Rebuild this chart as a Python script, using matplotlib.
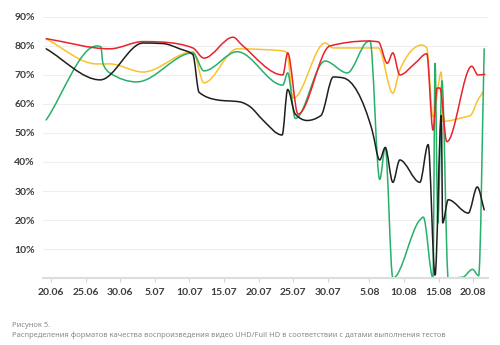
import numpy as np
import matplotlib
matplotlib.use('Agg')
import matplotlib.pyplot as plt
import matplotlib.dates as mdates
from matplotlib.path import Path
from matplotlib.patches import PathPatch

# days after 20.06, values in %
red_days = [-0.7, 8.5, 13.3, 16.2, 20.5, 22.1, 26.3, 27.6, 33.5, 34.2, 35.7, 40.3, 45.8, 47.3,
            48.6, 49.4, 50.4, 52.6, 54.3, 55.2, 55.8, 56.2, 57.2, 60.8, 61.7, 62.7]
red_vals = [82.5, 79.0, 81.5, 81.3, 79.3, 75.8, 83.0, 80.3, 70.0, 77.6, 56.5, 80.0, 81.7, 81.4,
            74.0, 77.6, 70.0, 74.0, 77.3, 51.0, 65.5, 65.5, 47.0, 73.0, 70.0, 70.2]

yellow_days = [-0.7, 6.6, 8.5, 13.3, 20.5, 22.1, 26.9, 33.5, 34.1, 35.0, 39.6, 40.8, 46.1, 47.3,
               49.4, 50.4, 53.6, 54.3, 55.2, 56.4, 56.6, 59.8, 60.6, 61.7, 62.4]
yellow_vals = [82.4, 73.8, 73.8, 71.0, 78.0, 67.3, 79.0, 78.3, 77.6, 62.0, 81.0, 79.3, 79.3, 79.3,
               63.7, 71.7, 80.3, 79.3, 55.5, 71.0, 54.0, 55.5, 56.0, 61.4, 64.0]

green_days = [-0.7, 6.6, 7.2, 7.5, 8.5, 12.4, 20.5, 22.1, 26.9, 33.5, 34.2, 35.3, 39.6, 42.8,
              45.7, 46.1, 47.5, 48.3, 49.4, 53.3, 53.8, 55.2, 55.5, 55.9, 56.5, 57.4, 59.5,
              60.9, 61.8, 62.6]
green_vals = [54.5, 80.0, 79.7, 74.0, 70.7, 67.6, 77.6, 71.4, 78.0, 66.5, 70.7, 55.0, 74.8, 70.7,
              81.4, 81.7, 34.0, 45.0, 0.0, 20.0, 21.0, 0.0, 74.0, 19.0, 68.0, 0.0, 0.3,
              3.0, 0.8, 79.0]

black_days = [-0.7, 7.1, 13.3, 16.2, 18.6, 20.5, 21.4, 24.0, 27.3, 28.8, 30.6, 33.4, 34.2, 35.3,
              37.0, 39.0, 40.8, 42.2, 46.4, 47.5, 48.3, 49.4, 50.4, 53.3, 54.5, 55.5, 56.4,
              56.6, 57.4, 60.3, 61.6, 62.6]
black_vals = [79.0, 68.3, 81.0, 80.8, 79.0, 77.0, 64.0, 61.4, 60.7, 59.0, 54.5, 49.3, 65.0, 56.5,
              54.3, 56.0, 69.3, 69.0, 51.0, 40.7, 45.0, 33.0, 40.7, 33.0, 46.0, 1.0, 56.0,
              19.0, 27.0, 22.4, 31.4, 23.5]

tick_dates = ['2019-06-20', '2019-06-25', '2019-06-30', '2019-07-05', '2019-07-10', '2019-07-15',
              '2019-07-20', '2019-07-25', '2019-07-30', '2019-08-05', '2019-08-10', '2019-08-15',
              '2019-08-20']
tick_labels = ['20.06', '25.06', '30.06', '5.07', '10.07', '15.07', '20.07', '25.07', '30.07',
               '5.08', '10.08', '15.08', '20.08']

caption1 = 'Рисунок 5.'
caption2 = ('Распределения форматов качества воспроизведения видео UHD/Full HD '
            'в соответствии с датами выполнения тестов')

base = mdates.date2num(np.datetime64('2019-06-20'))


def smooth_path(x, y):
    # monotone cubic curve through the points
    x = np.asarray(x, float)
    y = np.asarray(y, float)
    h = np.diff(x)
    s = np.diff(y) / h
    m = np.zeros_like(y)
    for i in range(1, len(x) - 1):
        p = (s[i - 1] * h[i] + s[i] * h[i - 1]) / (h[i - 1] + h[i])
        m[i] = (np.sign(s[i - 1]) + np.sign(s[i])) * min(abs(s[i - 1]), abs(s[i]), 0.5 * abs(p))
    m[0] = s[0]
    m[-1] = s[-1]
    verts = [(x[0], y[0])]
    codes = [Path.MOVETO]
    for i in range(len(x) - 1):
        d = h[i] / 3
        verts += [(x[i] + d, y[i] + m[i] * d), (x[i + 1] - d, y[i + 1] - m[i + 1] * d),
                  (x[i + 1], y[i + 1])]
        codes += [Path.CURVE4] * 3
    return Path(verts, codes)


fig = plt.figure(figsize=(5, 3.45), dpi=100)
ax = fig.add_axes([0.086, 0.194, 0.89, 0.757])

series = [
    (yellow_days, yellow_vals, '#f9c22e'),
    (green_days, green_vals, '#27b06a'),
    (red_days, red_vals, '#e8232a'),
    (black_days, black_vals, '#1e1e1e'),
]
for days, vals, col in series:
    xs = base + np.array(days)
    ax.add_patch(PathPatch(smooth_path(xs, vals), fill=False, edgecolor=col, lw=1.1,
                           capstyle='round', joinstyle='round'))

ax.set_xlim(base - 1.16, base + 63.15)
ax.set_ylim(0, 90)

ax.set_yticks(np.arange(10, 91, 10))
ax.set_yticklabels([f'{v}%' for v in range(10, 91, 10)])
ax.set_xticks(mdates.date2num(np.array(tick_dates, dtype='datetime64[D]')))
ax.set_xticklabels(tick_labels)

ax.grid(axis='y', color='#eeeeee', lw=0.8)
ax.set_axisbelow(True)
for sp in ['top', 'right', 'left']:
    ax.spines[sp].set_visible(False)
ax.spines['bottom'].set_color('#dddddd')
ax.spines['bottom'].set_linewidth(1.5)

ax.tick_params(axis='y', length=0, pad=6, labelsize=7.5, labelcolor='#3c3c3c')
ax.tick_params(axis='x', length=3, width=0.8, color='#d5d5d5', pad=4, labelsize=7.5,
               labelcolor='#3c3c3c')
for lab in ax.get_xticklabels() + ax.get_yticklabels():
    lab.set_family(['Lato', 'DejaVu Sans'])
    lab.set_fontweight('bold')

fig.text(0.024, 0.052, caption1, fontsize=5.4, color='#8a8a8a', family=['Noto Sans', 'DejaVu Sans'])
fig.text(0.024, 0.024, caption2, fontsize=5.4, color='#8a8a8a', family=['Noto Sans', 'DejaVu Sans'])

fig.savefig('out.png', dpi=100)
